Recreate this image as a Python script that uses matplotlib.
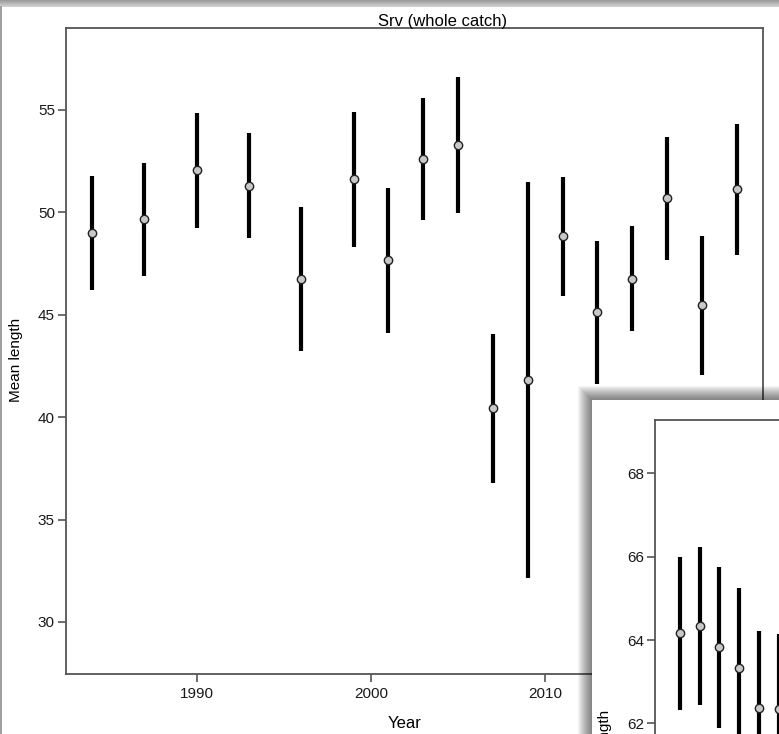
import numpy as np
import matplotlib
matplotlib.use("Agg")
import matplotlib.pyplot as plt
from matplotlib.patches import Rectangle
from matplotlib.lines import Line2D
from matplotlib.colors import LinearSegmentedColormap

plt.rcParams['font.family'] = ['Liberation Sans', 'DejaVu Sans']

# Main window: Srv (whole catch)
years = [1984, 1987, 1990, 1993, 1996, 1999, 2001, 2003, 2005,
         2007, 2009, 2011, 2013, 2015, 2017, 2019, 2021]
mean_len = [48.99, 49.66, 52.07, 51.30, 46.76, 51.62, 47.68, 52.62, 53.29,
            40.43, 41.82, 48.83, 45.14, 46.76, 50.69, 45.46, 51.13]
lower = [46.21, 46.89, 49.25, 48.73, 43.23, 48.30, 44.13, 49.63, 49.97,
         36.80, 32.16, 45.93, 41.62, 44.21, 47.66, 42.05, 47.94]
upper = [51.78, 52.43, 54.84, 53.86, 50.28, 54.90, 51.18, 55.57, 56.63,
         44.06, 51.48, 51.74, 48.62, 49.34, 53.70, 48.86, 54.32]
main_yticks = [30, 35, 40, 45, 50, 55]
main_xticks = [1990, 2000, 2010, 2020]

# Second (overlapping) window, only its top-left corner is visible
inset_x = [1, 2, 3, 4, 5, 6]
inset_mean = [64.16, 64.34, 63.84, 63.33, 62.36, 62.34]
inset_lower = [62.32, 62.44, 61.90, 61.40, 60.50, 60.50]
inset_upper = [66.00, 66.24, 65.76, 65.25, 64.22, 64.14]
inset_yticks = [62, 64, 66, 68]

W, H = 779, 734
AXIS_GREY = '#555555'


def px_box(x0, y0, x1, y1):
    # pixel box (top-left origin) -> figure fraction rect
    return [x0 / W, 1 - y1 / H, (x1 - x0) / W, (y1 - y0) / H]


def style_axes(ax):
    for s in ax.spines.values():
        s.set_color(AXIS_GREY)
        s.set_linewidth(1.3)
    ax.tick_params(direction='out', length=6, width=1.2, color=AXIS_GREY,
                   labelsize=11, labelcolor='#1a1a1a')
    ax.tick_params(axis='y', pad=2)
    ax.tick_params(axis='x', pad=3)


def draw_ci(ax, x, lo, hi, m):
    ax.vlines(x, lo, hi, colors='black', linewidth=3, zorder=2)
    ax.plot(x, m, 'o', ms=6, mfc='#c8c8c8', mec='#222222', mew=1, zorder=3)


fig = plt.figure(figsize=(W / 100, H / 100), dpi=100)
fig.patch.set_facecolor('white')

ax = fig.add_axes(px_box(66, 28, 763, 674))
draw_ci(ax, years, lower, upper, mean_len)
ax.set_xlim(1982.5, 2022.5)
ax.set_ylim(27.46, 59.0)
ax.set_xticks(main_xticks)
ax.set_yticks(main_yticks)
style_axes(ax)

fig.text(443 / W, 1 - 26 / H, 'Srv (whole catch)', ha='center', va='baseline', fontsize=12)
fig.text(405 / W, 1 - 728 / H, 'Year', ha='center', va='baseline', fontsize=12)
fig.text(16 / W, 1 - 360 / H, 'Mean length', rotation=90, ha='center', va='center', fontsize=11)

# window title bar and left border
bar = fig.add_axes(px_box(0, 0, W, 7))
bar.imshow(np.linspace(0, 1, 16).reshape(-1, 1), aspect='auto',
           cmap=LinearSegmentedColormap.from_list('bar', ['#9a9a9a', '#d2d2d2']))
bar.axis('off')
fig.add_artist(Line2D([0.8 / W, 0.8 / W], [0, 1 - 7 / H], color='#8c8c8c', lw=1.2))

# drop shadow of the second window
for k in range(14):
    off = 14 - k
    fig.add_artist(Rectangle(((592 - off) / W, 0), (W + 20) / W, (H - 400 + off) / H,
                             transform=fig.transFigure, facecolor='black',
                             edgecolor='none', alpha=0.045, zorder=2))
fig.add_artist(Rectangle((592 / W, 0), 1, (H - 400) / H, transform=fig.transFigure,
                         facecolor='white', edgecolor='none', zorder=3))

ax2 = fig.add_axes(px_box(655, 420, 655 + 697, 420 + 646))
ax2.set_zorder(4)
draw_ci(ax2, inset_x, inset_lower, inset_upper, inset_mean)
ax2.set_xlim(-0.27, 35.1)
ax2.set_ylim(53.78, 69.28)
ax2.set_yticks(inset_yticks)
ax2.set_xticks([])
style_axes(ax2)

fig.text(605 / W, 1 - 710 / H, 'Mean length', rotation=90, ha='center', va='top',
         fontsize=11, zorder=5)

fig.savefig('out.png', dpi=100)
